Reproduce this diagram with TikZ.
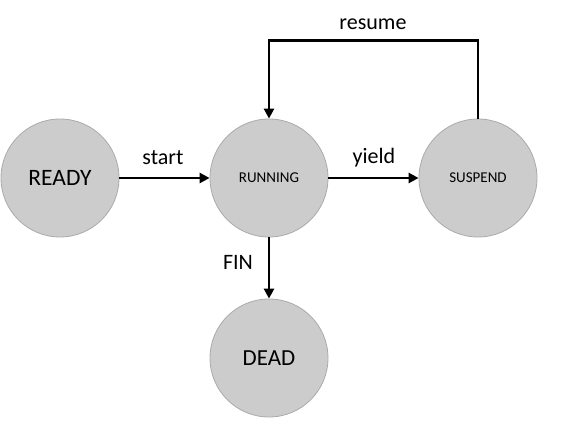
\documentclass[tikz,border=0pt]{standalone}
\usepackage{fontspec}
\setmainfont{Carlito}
\usetikzlibrary{arrows.meta}
\definecolor{statefill}{RGB}{204,204,204}
\definecolor{stateline}{RGB}{170,170,170}
\tikzset{
  state/.style={circle, fill=statefill, draw=stateline, line width=0.8pt, minimum size=118pt, inner sep=0pt},
  conn/.style={line width=2.6pt, -{Triangle[length=10pt,width=10pt]}},
  lbl/.style={font=\fontsize{22}{26}\selectfont, inner sep=0pt}
}
\begin{document}
\begin{tikzpicture}[x=1pt,y=-1pt]
\useasboundingbox (0,0) rectangle (568,441);
\fill[white] (0,0) rectangle (568,441);
\node[state, font=\fontsize{23.5}{28}\selectfont] (ready) at (60,178) {READY};
\node[state, font=\fontsize{15}{18}\selectfont] (running) at (269,178) {RUNNING};
\node[state, font=\fontsize{15}{18}\selectfont] (suspend) at (478,178) {SUSPEND};
\node[state, font=\fontsize{23}{28}\selectfont] (dead) at (269,358) {DEAD};
\draw[conn] (ready) -- (running);
\draw[conn] (running) -- (suspend);
\draw[conn] (running) -- (dead);
\draw[conn] (suspend.north) -- ++(0,-78) -| (running.north);
\node[lbl] (lstart) at (163,158) {start};
\node[lbl] (lyield) at (374,158) {yield};
\node[lbl] (lresume) at (373,24) {resume};
\node[lbl] (lfin) at (238,262) {FIN};
\end{tikzpicture}
\end{document}
